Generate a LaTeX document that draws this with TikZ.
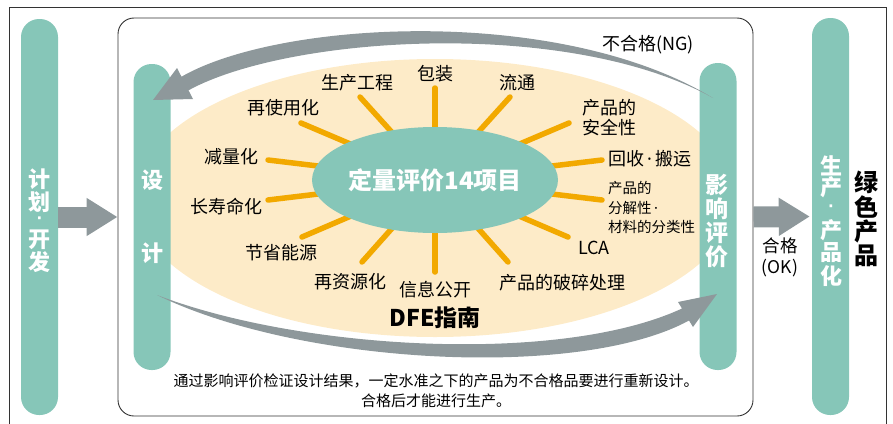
\documentclass[tikz,border=0pt]{standalone}
\usepackage{fontspec}
\setmainfont{Noto Sans CJK SC}
\newfontfamily\dotf{Noto Sans}
\newfontfamily\vdotf{DejaVu Sans}
\usetikzlibrary{shapes.geometric,arrows.meta}
\definecolor{pillc}{HTML}{86C6B8}
\definecolor{arrc}{HTML}{8E989B}
\definecolor{beigec}{HTML}{FDEBC8}
\definecolor{spokec}{HTML}{F2A900}
\definecolor{linec}{HTML}{333333}
\newcommand{\mdot}{{\dotf\,·\,}}
\begin{document}
\begin{tikzpicture}[x=1pt,y=-1pt,
 pill/.style={fill=pillc,rounded corners=18pt,inner sep=0pt,minimum width=37pt},
 vtext/.style={text=white,font=\bfseries\fontsize{22}{22}\selectfont,inner sep=0pt},
 vdot/.style={text=white,font=\vdotf\bfseries\fontsize{15}{15}\selectfont,inner sep=0pt},
 lab/.style={font=\fontsize{18}{20}\selectfont,inner sep=0pt},
 spoke/.style={draw=spokec,line width=5.5pt,line cap=round},
 blockarrow/.style={draw=arrc,line width=21pt,-{Triangle[length=31pt,width=36pt]}}
]
\useasboundingbox (0,0) rectangle (893,423);
\draw[linec,line width=0.8pt] (9.5,7.5) rectangle (886.5,430);
% outer pills
\node[pill,minimum height=396pt] (plan) at (39.5,217) {};
\node[pill,minimum height=397pt] (prod) at (830.5,216.5) {};
% frame
\node[draw=linec,line width=0.9pt,rounded corners=16pt,minimum width=635pt,minimum height=398pt,inner sep=0pt] (frame) at (435.5,217) {};
% DFE guide ellipse
\node[ellipse,fill=beigec,minimum width=600pt,minimum height=278pt,inner sep=0pt] (guide) at (435,198) {};
% inner pills
\node[pill,minimum height=306pt] (design) at (152,217) {};
\node[pill,minimum height=307pt] (assess) at (718,216.5) {};
% spokes
\coordinate (ctr) at (435,180);
\coordinate (s1) at (301,123);
\coordinate (s2) at (360,97);
\coordinate (s3) at (435,88);
\coordinate (s4) at (510,97);
\coordinate (s5) at (569,123);
\coordinate (s6) at (602,160);
\coordinate (s7) at (602,200);
\coordinate (s8) at (568,237);
\coordinate (s9) at (508,262);
\coordinate (s10) at (435,272);
\coordinate (s11) at (362,262);
\coordinate (s12) at (302,237);
\coordinate (s13) at (268,200);
\coordinate (s14) at (268,160);
\foreach \i in {1,...,14} \draw[spoke] (ctr) -- (s\i);
\node[ellipse,fill=pillc,minimum width=246pt,minimum height=106pt,inner sep=0pt,text=white,font=\bfseries\fontsize{24}{24}\selectfont] (core) at (ctr) {定量评价14项目};
% labels
\node[lab] (l1) at (283,108) {再使用化};
\node[lab] (l2) at (357,83) {生产工程};
\node[lab] (l3) at (435,74) {包装};
\node[lab] (l4) at (517,83) {流通};
\node[lab,anchor=west,align=left] (l5) at (582,118) {产品的\\安全性};
\node[lab,anchor=west] (l6) at (608,159) {回收\mdot 搬运};
\node[lab,anchor=west,align=left,font=\fontsize{14.5}{19.5}\selectfont] (l7) at (608,207.5) {产品的\\分解性{\dotf\,·}\\材料的分类性};
\node[lab] (l8) at (594,248) {LCA};
\node[lab] (l9) at (562,283) {产品的破碎处理};
\node[lab] (l10) at (435,290) {信息公开};
\node[lab] (l11) at (350,282) {再资源化};
\node[lab] (l12) at (281,253) {节省能源};
\node[lab] (l13) at (226,207) {长寿命化};
\node[lab] (l14) at (231,157) {减量化};
\node[font=\bfseries\fontsize{23}{23}\selectfont,inner sep=0pt] (dfe) at (435,318) {DFE指南};
% note
\node[font=\fontsize{15}{20}\selectfont,align=center,inner sep=0pt] (note) at (436,391) {通过影响评价检证设计结果，一定水准之下的产品为不合格品要进行重新设计。\\合格后才能进行生产。};
\node[lab,font=\fontsize{18}{18}\selectfont] (ng) at (648,45) {不合格(NG)};
\node[lab,align=center,font=\fontsize{17.5}{21}\selectfont] (ok) at (780,257.5) {合格\\(OK)};
% vertical texts
\foreach \c/\y [count=\k] in {计/179,划/202,开/240,发/262.5}
  \node[vtext] (pa\k) at (39.5,\y) {\c};
\node[vdot] (pad) at (39.5,220) {·};
\node[vtext] (ds1) at (152,180) {设};
\node[vtext] (ds2) at (152,253) {计};
\foreach \c/\y [count=\k] in {影/184.5,响/208.5,评/233,价/257}
  \node[vtext,font=\bfseries\fontsize{23}{23}\selectfont] (as\k) at (717,\y) {\c};
\foreach \c/\y [count=\k] in {生/166,产/187.5,产/230,品/253,化/276.5}
  \node[vtext] (pr\k) at (831,\y) {\c};
\node[vdot] (prd) at (831,208.5) {·};
\foreach \c/\y [count=\k] in {绿/182.5,色/207,产/231,品/256}
  \node[font=\bfseries\fontsize{24}{24}\selectfont,inner sep=0pt] (gp\k) at (866,\y) {\c};
% block arrows
\draw[blockarrow] (plan.east) -- (frame.west);
\draw[blockarrow,shorten >=2pt] (frame.east) -- (prod.west);
% curved arrows
\coordinate (ngS) at (713,98);
\coordinate (ngT) at (153,100);
\coordinate (okS) at (157,295);
\coordinate (okT) at (717,294);
\fill[arrc] (ngS) .. controls (570,18) and (290,35) .. (188.5,90.3) -- (193,99) -- (ngT) -- (177,68) -- (181.5,76.7) .. controls (280,20) and (560,5) .. (ngS) -- cycle;
\fill[arrc] (okS) .. controls (300,350) and (560,365) .. (682,308.5) -- (678,302) -- (okT) -- (693,327) -- (689,320.5) .. controls (580,380) and (300,365) .. (okS) -- cycle;
\end{tikzpicture}
\end{document}
